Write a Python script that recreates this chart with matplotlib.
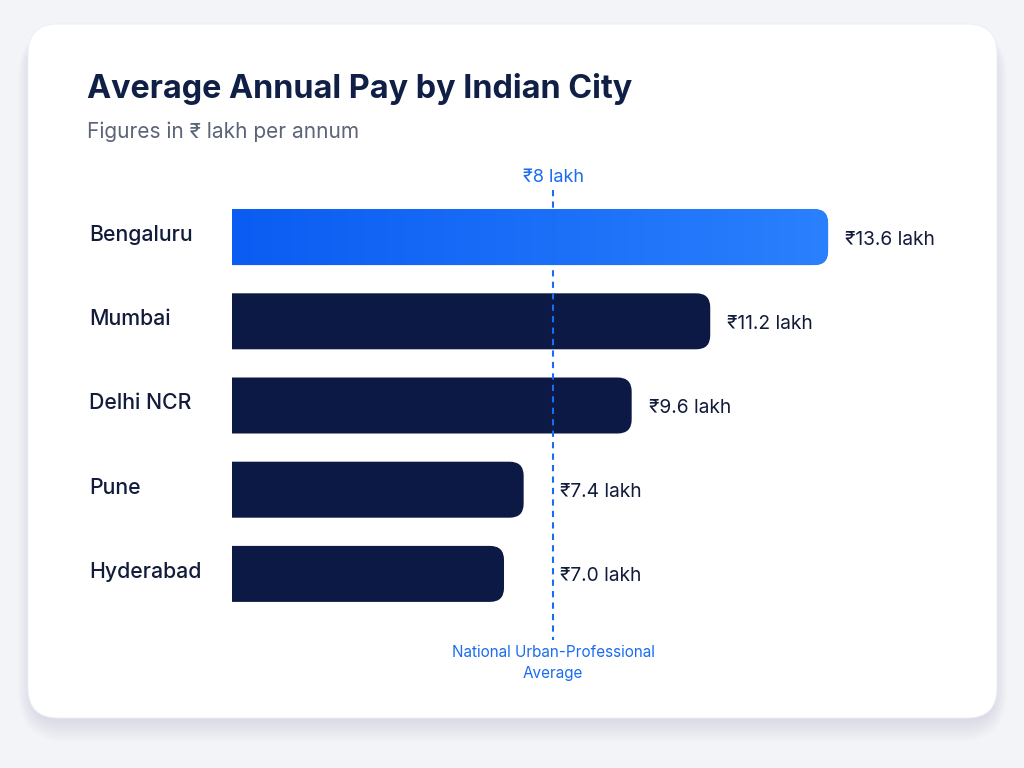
import numpy as np
import matplotlib
matplotlib.use("Agg")
import matplotlib.pyplot as plt
from matplotlib.patches import FancyBboxPatch
from matplotlib.colors import LinearSegmentedColormap

plt.rcParams['font.family'] = ['Inter', 'Noto Sans', 'DejaVu Sans']

# data
cities = ['Bengaluru', 'Mumbai', 'Delhi NCR', 'Pune', 'Hyderabad']
pay = [13.6, 11.2, 9.6, 7.4, 7.0]
value_labels = ['₹13.6 lakh', '₹11.2 lakh', '₹9.6 lakh', '₹7.4 lakh', '₹7.0 lakh']
ref_value = 8
ref_label = '₹8 lakh'
ref_caption = 'National Urban-Professional\nAverage'

navy = '#0b1944'
blue = '#1a6cf0'
text_dark = '#111b3a'

W, H = 1024, 768
fig = plt.figure(figsize=(W / 100, H / 100), dpi=100)
fig.patch.set_facecolor('#f3f4f7')

# card with soft shadow (coords in inches via dpi_scale_trans)
def px_box(x0, y0, x1, y1, rad, **kw):
    return FancyBboxPatch((x0 / 100, (H - y1) / 100), (x1 - x0) / 100, (y1 - y0) / 100,
                          boxstyle=f"round,pad=0,rounding_size={rad / 100}",
                          transform=fig.dpi_scale_trans, **kw)

for i in range(12):
    grow = i * 1.8
    fig.patches.append(px_box(30 - grow * 0.6, 34 - grow * 0.3, 995 + grow * 0.6,
                              722 + grow, 30 + grow, facecolor='#8e98b3',
                              edgecolor='none', alpha=0.016, zorder=-3))
fig.patches.append(px_box(28, 24, 997, 718, 30, facecolor='white',
                          edgecolor='#eceef3', linewidth=0.6, zorder=-2))

# titles
fig.text(87 / W, 1 - 89 / H, 'Average Annual Pay by Indian City', fontsize=23.3,
         fontweight='bold', color='#0f1f45', va='center', ha='left')
fig.text(87 / W, 1 - 132 / H, 'Figures in ₹ lakh per annum', fontsize=15,
         color='#5b6478', va='center', ha='left')

# axes placed so bar ends line up with the picture
ax_left, ax_right, ax_top, ax_bottom = 232, 968, 195, 616
ax = fig.add_axes([ax_left / W, 1 - ax_bottom / H, (ax_right - ax_left) / W,
                   (ax_bottom - ax_top) / H])
ax.set_facecolor('none')
for s in ax.spines.values():
    s.set_visible(False)
ax.set_xticks([])
ax.set_yticks([])

x0 = 1.46
x1 = x0 + (ax_right - ax_left) / 49.1
ax.set_xlim(x0, x1)
ax.set_ylim(len(cities) - 0.5, -0.5)

px_x = (ax_right - ax_left) / (x1 - x0)
px_y = (ax_bottom - ax_top) / len(cities)
bar_h = 0.665
rad_px = 14
aspect = px_x / px_y

grad = LinearSegmentedColormap.from_list('g', ['#0b5cf2', '#2a80fd'])

for i, (c, v, lab) in enumerate(zip(cities, pay, value_labels)):
    color = blue if i == 0 else navy
    patch = FancyBboxPatch((0, i - bar_h / 2), v, bar_h,
                           boxstyle=f"round,pad=0,rounding_size={rad_px / px_x}",
                           mutation_aspect=aspect, facecolor=color,
                           edgecolor='none', zorder=2)
    ax.add_patch(patch)
    if i == 0:
        g = np.linspace(0, 1, 256).reshape(1, -1)
        im = ax.imshow(g, extent=[x0, v, i + bar_h / 2, i - bar_h / 2], cmap=grad,
                       aspect='auto', zorder=3, interpolation='bicubic')
        im.set_clip_path(patch)
    # value label, kept clear of the reference line
    lx = v + 0.35 if v > ref_value else ref_value + 0.15
    ax.text(lx, i + 0.03, lab, fontsize=13.8, color=text_dark, va='center',
            ha='left', zorder=5)
    # city label to the left of the axes
    ax.text(89 / W, 1 - (237 + i * px_y - 2) / H, c, transform=fig.transFigure,
            fontsize=15.3, color=text_dark, va='center', ha='left',
            fontweight='medium')

ax.set_xlim(x0, x1)
ax.set_ylim(len(cities) - 0.5, -0.5)

# reference line
y_top = -0.5 - 5 / px_y
y_bot = len(cities) - 0.5 + 24 / px_y
ax.plot([ref_value, ref_value], [y_top, y_bot], color=blue, lw=1.5,
        linestyle=(0, (3, 2.5)), zorder=4, clip_on=False)
ax.text(ref_value, -0.5 - 17 / px_y, ref_label, fontsize=13, color=blue,
        ha='center', va='center')
ax.text(ref_value, len(cities) - 0.5 + 47 / px_y, ref_caption, fontsize=11,
        color=blue, ha='center', va='center', linespacing=1.5)

fig.savefig('out.png', dpi=100, facecolor=fig.get_facecolor())
